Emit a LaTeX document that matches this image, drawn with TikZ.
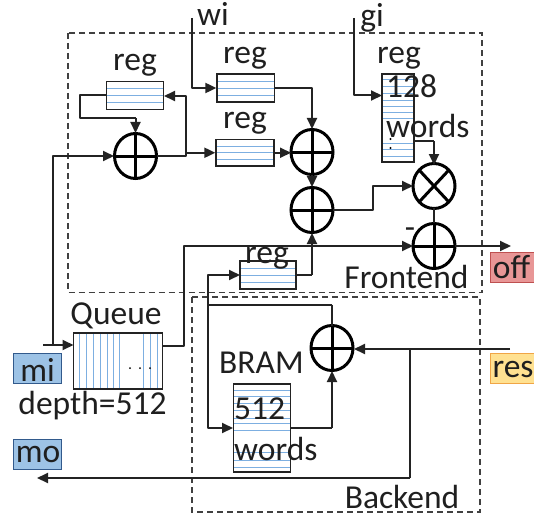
\documentclass[tikz,border=0pt]{standalone}
\usepackage{fontspec}
\setmainfont{Carlito}
\usetikzlibrary{arrows.meta}
\definecolor{gridblue}{RGB}{125,175,225}
\definecolor{linegray}{RGB}{35,35,35}
\definecolor{portblue}{RGB}{157,195,230}
\definecolor{portblueedge}{RGB}{50,90,140}
\definecolor{portred}{RGB}{232,150,150}
\definecolor{portrededge}{RGB}{190,80,80}
\definecolor{portyellow}{RGB}{255,225,145}
\definecolor{portyellowedge}{RGB}{240,165,70}
\tikzset{
  x=1pt,y=-1pt,
  wire/.style={draw=linegray,line width=2pt,line join=round},
  arrowwire/.style={wire,-{Triangle[length=11pt,width=10pt]}},
  boxframe/.style={draw=linegray,line width=1.3pt},
  gridline/.style={draw=gridblue,line width=0.8pt},
  dashbox/.style={draw=black!75,line width=1.3pt,dash pattern=on 6pt off 4pt},
  opcircle/.style={draw=black,line width=3pt},
  label/.style={font=\fontsize{33.5}{33.5}\selectfont,inner sep=0pt,text=black!88},
  port/.style={line width=1pt,inner sep=0pt},
}
\newcommand{\hreg}[5]{% name x0 y0 x1 y1
  \fill[white] (#2,#3) rectangle (#4,#5);
  \foreach \f in {0.25,0.5,0.75}
    \draw[gridline] ({#2},{#3+\f*(#5-#3)}) -- ({#4},{#3+\f*(#5-#3)});
  \node[boxframe,draw,minimum width={(#4-#2)*1pt},minimum height={(#5-#3)*1pt},inner sep=0pt] (#1) at ({(#2+#4)/2},{(#3+#5)/2}) {};
}
\newcommand{\opnode}[3]{% name x y
  \coordinate (#1) at (#2,#3);
  \draw[opcircle] (#2,#3) ellipse [x radius=21,y radius=22.5];
}
\begin{document}
\begin{tikzpicture}
\useasboundingbox (0,0) rectangle (534,513);
% dashed
\draw[dashbox] (68,33) rectangle (482,292.5);
\draw[dashbox] (192,297) rectangle (480,512);
% registers
\hreg{ra}{106.5}{81.5}{163.5}{109.5}
\hreg{rb}{217}{74}{274.5}{102}
\hreg{rc}{216}{139.5}{274}{166}
\hreg{rd}{240}{261}{296}{289}
% 128 words
\fill[white] (382,74) rectangle (414,162);
\foreach \y in {79,86,93,100,106,112,118,143,149,156}
  \draw[gridline] (382,\y) -- (414,\y);
\node[boxframe,draw,minimum width=32pt,minimum height=88pt,inner sep=0pt] (rw) at (398,118) {};
\fill[black] (390.5,139) circle (1.2) (390.5,148) circle (1.2);
% BRAM
\fill[white] (233.5,384) rectangle (290.5,472);
\foreach \y in {390,396,403,410,418,423,430,452,460,467}
  \draw[gridline] (233.5,\y) -- (290.5,\y);
\node[boxframe,draw,minimum width=57pt,minimum height=88pt,inner sep=0pt] (bram) at (262,428) {};
% Queue
\fill[white] (73.5,333) rectangle (162.5,389);
\foreach \x in {79,86,93,100,107,113,119,143,150,157}
  \draw[gridline] (\x,333) -- (\x,389);
\node[boxframe,draw,minimum width=89pt,minimum height=56pt,inner sep=0pt] (q) at (118,361) {};
\fill[black] (130,368) circle (1) (140,368) circle (1) (150,368) circle (1);
% operators
\opnode{oa}{135.5}{156}
\opnode{ob}{312}{152}
\opnode{oc}{312}{210}
\opnode{ot}{434}{186}
\opnode{od}{434}{246}
\opnode{oe}{332}{348}
\draw[opcircle] (114.5,156) -- (156.5,156) (135.5,133.5) -- (135.5,178.5);
\draw[opcircle] (291,152) -- (333,152) (312,129.5) -- (312,174.5);
\draw[opcircle] (291,210) -- (333,210) (312,187.5) -- (312,232.5);
\draw[opcircle] (413,246) -- (455,246) (434,223.5) -- (434,268.5);
\draw[opcircle] (311,348) -- (353,348) (332,325.5) -- (332,370.5);
\draw[opcircle] (419.2,170.1) -- (448.8,201.9) (448.8,170.1) -- (419.2,201.9);
% ports
\node[port,draw=portblueedge,fill=portblue,minimum width=48pt,minimum height=30pt] (mi) at (37.5,368) {};
\node[label] at (37.5,370) {mi};
\node[port,draw=portblueedge,fill=portblue,minimum width=48pt,minimum height=30pt] (mo) at (37.5,454) {};
\node[label] at (38,454) {mo};
\node[port,draw=portrededge,fill=portred,minimum width=44pt,minimum height=30pt,anchor=west] (off) at (490,267) {};
\node[label] at (511.5,267) {off};
\node[port,draw=portyellowedge,fill=portyellow,minimum width=44pt,minimum height=30pt,anchor=west] (res) at (490,368) {};
\node[label] at (513,369) {res};
% coordinates
\coordinate (wi) at (192,18);
\coordinate (gi) at (354,18);
\coordinate (mis) at (43,345);
\coordinate (qin) at (73.5,345);
\coordinate (mot) at (37,478);
% wires
\draw[arrowwire] (wi) |- (rb.west);
\draw[arrowwire] (gi) |- (382,95.5);
\draw[arrowwire] (rb.east) -| (312,129);
\draw[arrowwire] (rc.west -| rc.east) -- (291,152.75);
\draw[wire] (ra.west) -- (80,95.5) -- (80,118) -- (135.5,118);
\draw[arrowwire] (135.5,118) -- (135.5,133);
\draw[arrowwire] (mis) -- (qin);
\draw[arrowwire] (53,345) -- (53,156) -- (114,156);
\draw[arrowwire] (156.5,156) -- (185.5,156) -- (185.5,96) -- (164,96);
\draw[arrowwire] (185.5,152.75) -- (rc.west);
\draw[arrowwire] (312,175) -- (312,187);
\draw[arrowwire] (333,210) -- (373,210) -- (373,186) -- (413,186);
\draw[wire] (414,141) -- (434,141);
\draw[arrowwire] (434,141) -- (434,165);
\draw[wire] (434,208) -- (434,223);
\draw[wire] (163,346) -- (184,346) -- (184,246) -- (312,246);
\draw[arrowwire] (312,246) -- (413,246);
\draw[arrowwire] (455,246) -- (511,246);
\draw[wire] (rd.east) -- (312,275);
\draw[arrowwire] (312,275) -- (312,233);
\draw[wire] (332,304.5) -- (207.5,304.5);
\draw[arrowwire] (207.5,304.5) -- (207.5,275) -- (240,275);
\draw[arrowwire] (207.5,304.5) -- (207.5,428) -- (233,428);
\draw[wire] (332,304.5) -- (332,326);
\draw[wire] (291,428) -- (332,428);
\draw[arrowwire] (332,428) -- (332,371);
\draw[arrowwire] (510,349) -- (354,349);
\draw[wire] (410,349) -- (410,478);
\draw[arrowwire] (410,478) -- (mot);
% labels
\node[label] at (135,65) {reg};
\node[label] at (245,58.5) {reg};
\node[label] at (245,123.5) {reg};
\node[label] at (399,58.5) {reg};
\node[label] at (267,258.5) {reg};
\node[label] at (213,14) {wi};
\node[label] at (372,18) {gi};
\node[label,anchor=west] at (386,86) {128};
\node[label,anchor=west] at (386,126) {words};
\node[label] at (116,316) {Queue};
\node[label] at (92.5,405.5) {depth=512};
\node[label,anchor=west] at (219,363) {BRAM};
\node[label,anchor=west] at (234,409) {512};
\node[label,anchor=west] at (234,449) {words};
\node[label] at (406.5,276.7) {Frontend};
\node[label] at (402,497) {Backend};
\node[label] at (410,233) {-};
\end{tikzpicture}
\end{document}
